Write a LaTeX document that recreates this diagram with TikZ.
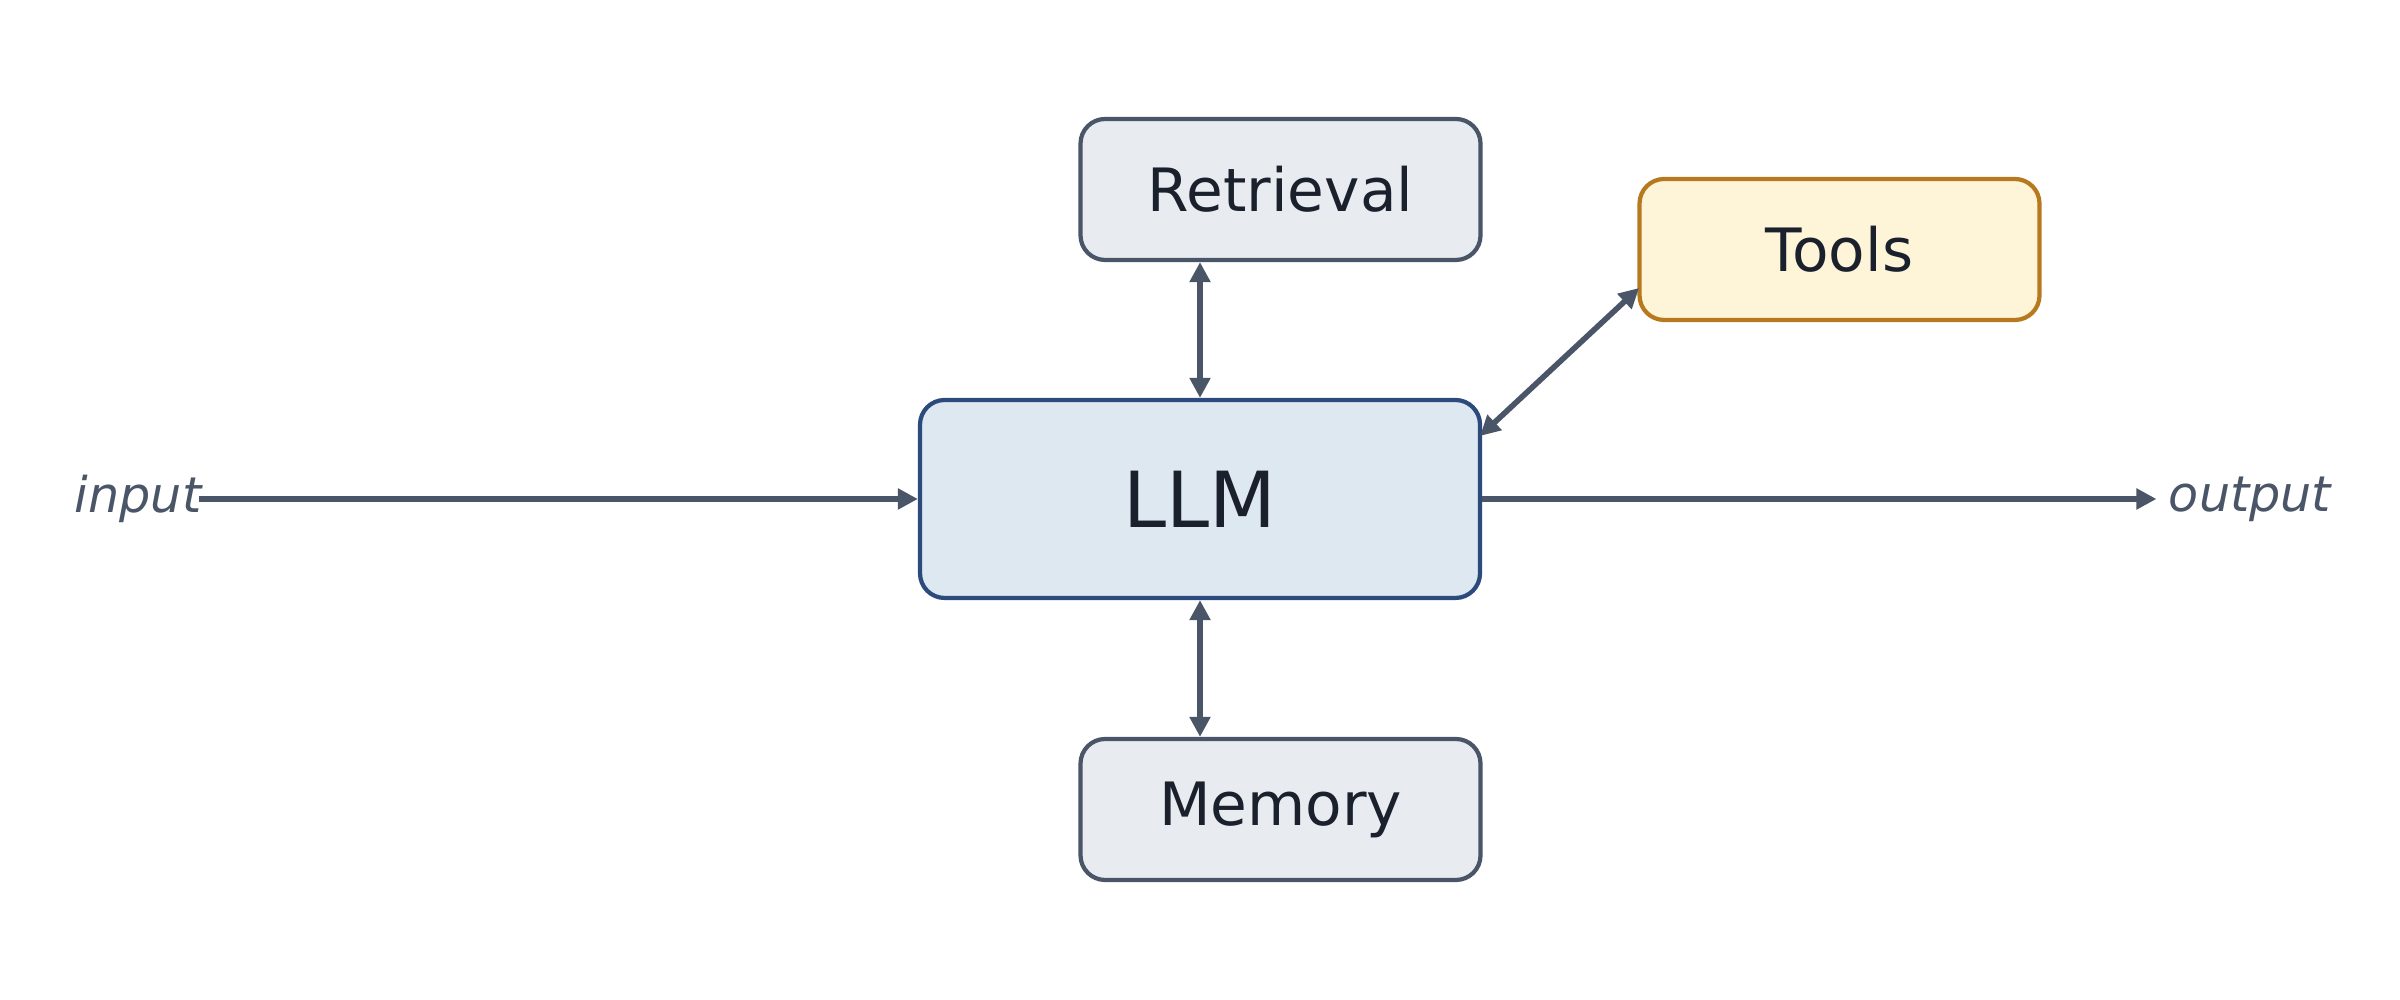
\documentclass[tikz,border=0pt]{standalone}
\usepackage{fontspec}
\setmainfont{DejaVu Sans}
\usetikzlibrary{arrows.meta}
\definecolor{edge}{HTML}{4A5568}
\definecolor{txt}{HTML}{1A202C}
\definecolor{boxfill}{HTML}{E8ECF1}
\definecolor{llmfill}{HTML}{DDE8F1}
\definecolor{llmdraw}{HTML}{2C4A7C}
\definecolor{toolfill}{HTML}{FEF4D7}
\definecolor{tooldraw}{HTML}{B7791F}
\begin{document}
\begin{tikzpicture}[x=1cm,y=1cm,
  box/.style={draw=edge,fill=boxfill,line width=1.2pt,rounded corners=7pt,minimum width=4cm,minimum height=1.41cm,inner sep=0pt,text=txt,font=\fontsize{17}{20}\selectfont},
  arr/.style={draw=edge,line width=1.6pt,-{Triangle[length=0.2cm,width=0.2cm]}},
  darr/.style={draw=edge,line width=1.6pt,{Triangle[length=0.2cm,width=0.2cm]}-{Triangle[length=0.2cm,width=0.2cm]}},
  lab/.style={text=edge,font=\itshape\fontsize{14}{17}\selectfont}]
\useasboundingbox (0,0) rectangle (24,10);
\node[box,draw=llmdraw,fill=llmfill,minimum width=5.6cm,minimum height=1.98cm,font=\fontsize{22}{26}\selectfont] (llm) at (12,5.01) {LLM};
\node[box] (ret) at (12.805,8.105) {Retrieval};
\node[box,draw=tooldraw,fill=toolfill] (tools) at (18.395,7.505) {Tools};
\node[box] (mem) at (12.805,1.905) {Memory};
\node[lab] (in) at (1.38,5.01) {input};
\node[lab] (out) at (22.5,5.01) {output};
\coordinate (ins) at (1.99,5.01);
\draw[arr] (ins) -- (llm.west);
\draw[arr] (llm.east) -- (out.west);
\draw[darr] (ret.south -| llm.north) -- (llm.north);
\draw[darr] (llm.south) -- (mem.north -| llm.south);
\coordinate (lc) at (14.8,5.64);
\coordinate (tc) at (16.39,7.12);
\draw[darr] (lc) -- (tc);
\end{tikzpicture}
\end{document}
